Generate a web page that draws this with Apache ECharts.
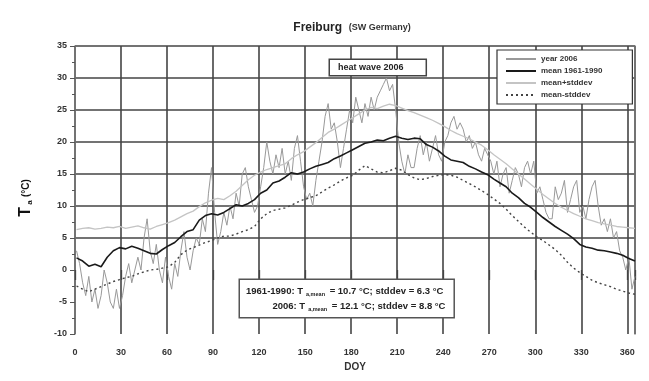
<!DOCTYPE html>
<html><head><meta charset="utf-8">
<script src="https://cdn.jsdelivr.net/npm/echarts@6/dist/echarts.min.js"></script>
<style>html,body{margin:0;padding:0;background:#fff}#c{width:649px;height:381px}</style>
</head><body><div id="c"></div>
<script>
// ---- data ----
const xTicks = [0,30,60,90,120,150,180,210,240,270,300,330,360];
const yTicks = [-10,-5,0,5,10,15,20,25,30,35];
// year 2006 daily mean temperature, every 2nd day starting DOY 1
const year2006 = [
 3, 1, -2, -4, -1, -5, -3, -6, -4, 0,
 -2, -5, -6, -3, -6, -4, -1, 1, -2, 0,
 2, 0, 5, 8, 3, 1, 4, 0, -2, 2,
 -1, -3, 1, -1, 3, 6, 2, 0, 3, 5,
 4, 8, 6, 12, 16, 9, 4, 6, 9, 7,
 10, 8, 12, 10, 15, 16, 13, 11, 9, 10,
 13, 16, 20, 17, 15, 18, 16, 19, 15, 17,
 14, 19, 21, 17, 13, 11, 12, 10, 14, 17,
 20, 24, 26, 22, 23, 20, 16, 19, 22, 25,
 23, 27, 25, 23, 26, 24, 27, 25, 27, 28,
 29, 30, 28, 29, 25, 20, 17, 15, 18, 16,
 16, 19, 21, 18, 20, 17, 19, 21, 18, 17,
 20, 21, 23, 24, 22, 23, 22, 20, 21, 19,
 20, 18, 17, 19, 18, 17, 15, 17, 13, 15,
 16, 12, 14, 16, 15, 13, 16, 17, 15, 17,
 12, 13, 11, 9, 8, 8, 13, 11, 12, 14,
 9, 11, 13, 14, 9, 10, 8, 11, 13, 14,
 10, 7, 8, 6, 8, 5, 6, 3, 2, 0,
 2, -3, -1
];
// 1961-1990 mean, every 4th day starting DOY 1
const mean6190 = [
 1.9, 1.4, 0.6, 0.9, 0.5, 2.0, 3.0, 3.5, 3.3, 3.7,
 3.4, 3.0, 2.6, 2.5, 3.2, 3.8, 4.3, 5.2, 6.0, 6.3,
 7.8, 8.5, 8.8, 8.6, 9.0, 9.6, 10.2, 10.0, 10.4, 11.0,
 12.0, 12.5, 13.6, 13.9, 14.5, 15.2, 15.0, 15.3, 15.8, 16.2,
 16.5, 16.8, 17.4, 17.8, 18.3, 18.8, 19.3, 19.8, 20.0, 20.3,
 20.2, 20.6, 20.9, 20.6, 20.4, 20.6, 20.5, 19.6, 19.2, 18.6,
 17.8, 17.2, 17.0, 16.8, 16.2, 15.8, 15.3, 14.9, 14.2, 13.6,
 13.0, 12.0, 11.3, 10.4, 9.8, 9.0, 8.2, 7.5, 6.8, 6.2,
 5.6, 4.9, 4.0, 3.6, 3.4, 3.1, 3.0, 2.8, 2.6, 2.3,
 1.8, 1.4
];
const meanPlus = [
 6.3, 6.5, 6.6, 6.4, 6.5, 6.7, 6.6, 6.8, 6.5, 6.7,
 6.9, 6.6, 6.4, 6.8, 7.1, 7.4, 7.8, 8.3, 8.8, 9.2,
 9.9, 10.5, 10.9, 11.2, 11.0, 11.6, 12.3, 13.2, 14.1, 14.8,
 15.3, 15.7, 16.0, 16.3, 16.6, 17.4, 18.0, 18.5, 19.2, 19.9,
 20.7, 21.5, 22.0, 22.6, 23.2, 23.8, 24.4, 25.0, 25.4, 25.2,
 25.6, 25.9, 25.7, 25.3, 24.9, 24.6, 24.2, 23.8, 23.4, 22.9,
 22.4, 21.8, 21.3, 20.9, 20.5, 20.0, 19.5, 18.8, 18.0, 17.3,
 16.6, 15.8, 15.0, 14.2, 13.4, 12.6, 11.8, 11.1, 10.4, 9.8,
 9.3, 8.8, 8.4, 8.0, 7.7, 7.4, 7.2, 7.0, 6.8, 6.7,
 6.6, 6.5
];
const meanMinus = [
 -2.5, -3.0, -3.4, -3.0, -2.6, -2.2, -1.8, -1.5, -1.2, -1.0,
 -0.6, -0.3, 0.0, 0.1, 0.3, 0.5, 1.2, 2.4, 3.1, 3.5,
 3.9, 4.3, 4.6, 5.0, 5.3, 5.3, 5.6, 6.0, 6.3, 6.8,
 8.0, 8.8, 9.3, 9.5, 9.7, 10.1, 10.6, 11.0, 11.3, 11.6,
 12.2, 12.8, 13.3, 13.9, 14.4, 14.8, 15.6, 16.3, 15.8, 15.3,
 15.2, 15.5, 15.9, 15.6, 14.9, 14.4, 14.1, 14.3, 14.6, 14.8,
 14.9, 14.8, 14.5, 14.0, 13.5, 13.0, 12.4, 11.8, 11.1, 10.4,
 9.5, 8.5, 7.6, 6.7, 5.9, 5.2, 4.6, 3.9, 3.2, 2.3,
 1.2, 0.3, -0.4, -1.0, -1.6, -2.0, -2.3, -2.6, -3.0, -3.3,
 -3.6, -3.8
];
const seriesNames = ['year 2006','mean 1961-1990','mean+stddev','mean-stddev'];

const pairs = (vals, start, step) => vals.map((v, i) => [start + i * step, v]);

const FONT = 'Liberation Sans, Arial, sans-serif';
const chart = echarts.init(document.getElementById('c'), null, {renderer: 'canvas'});
const gridColor = '#444';
chart.setOption({
  animation: false,
  backgroundColor: '#fff',
  textStyle: {fontFamily: FONT},
  grid: {left: 75, right: 14, top: 46, bottom: 47},
  legend: {
    orient: 'vertical', left: 497, top: 50,
    backgroundColor: '#fff', borderColor: '#333', borderWidth: 1.2,
    padding: [5, 30, 5, 8], itemGap: 4, itemWidth: 30, itemHeight: 8,
    itemStyle: {opacity: 0},
    textStyle: {fontSize: 8, color: '#333', fontFamily: FONT, fontWeight: 'bold'},
    data: seriesNames
  },
  xAxis: {
    type: 'value', min: 0, max: 365, interval: 30,
    name: 'DOY', nameLocation: 'middle', nameGap: 28,
    nameTextStyle: {fontSize: 10, fontWeight: 'bold', color: '#333'},
    axisLine: {show: false},
    axisTick: {show: true, length: 10, lineStyle: {color: gridColor, width: 1.3}},
    axisLabel: {fontSize: 9, fontWeight: 'bold', color: '#333', margin: 14,
      customValues: xTicks},
    splitLine: {show: true, lineStyle: {color: gridColor, width: 1.6}}
  },
  yAxis: [{
    type: 'value', min: -10, max: 35, interval: 5,
    axisLine: {show: true, lineStyle: {color: '#777', width: 1.5}},
    axisTick: {show: true, inside: false, length: 5, lineStyle: {color: '#555'}},
    minorTick: {show: true, splitNumber: 2, length: 3, lineStyle: {color: '#555'}},
    axisLabel: {fontSize: 9, fontWeight: 'bold', color: '#333', margin: 8},
    splitLine: {show: true, lineStyle: {width: 1.6,
      color: ['rgba(0,0,0,0)','rgba(0,0,0,0)','rgba(0,0,0,0)',gridColor,gridColor,gridColor,gridColor,gridColor,gridColor,gridColor]}}
  }, {
    type: 'value', min: -10, max: 35, interval: 5, position: 'right',
    axisLine: {show: true, lineStyle: {color: '#777', width: 1.5}},
    axisTick: {show: false}, axisLabel: {show: false}, splitLine: {show: false}
  }],
  series: [
    {name: seriesNames[0], type: 'line', data: pairs(year2006, 1, 2), symbol: 'none',
     lineStyle: {color: '#999', width: 1}, itemStyle: {color: '#999'}, z: 2},
    {name: seriesNames[2], type: 'line', data: pairs(meanPlus, 1, 4), symbol: 'none',
     lineStyle: {color: '#c4c4c4', width: 1.3}, itemStyle: {color: '#c4c4c4'}, z: 3},
    {name: seriesNames[3], type: 'line', data: pairs(meanMinus, 1, 4), symbol: 'none',
     lineStyle: {color: '#444', width: 1.4, type: [2, 3]}, itemStyle: {color: '#444'}, z: 4},
    {name: seriesNames[1], type: 'line', data: pairs(mean6190, 1, 4), symbol: 'none',
     lineStyle: {color: '#1a1a1a', width: 1.6}, itemStyle: {color: '#1a1a1a'}, z: 5}
  ],
  graphic: [
    {type: 'text', x: 352, y: 28, z: 10,
     style: {text: '{a|Freiburg}  {b|(SW Germany)}', align: 'center', verticalAlign: 'middle', fill: '#222',
       rich: {a: {fontSize: 12, fontWeight: 'bold', fontFamily: FONT, fill: '#222'},
              b: {fontSize: 9, fontWeight: 'bold', fontFamily: FONT, fill: '#333'}}}},
    {type: 'text', x: 26, y: 198, rotation: Math.PI / 2, z: 10,
     style: {text: '{t|T}{s| a} {u|(°C)}', align: 'center', verticalAlign: 'middle',
       rich: {t: {fontSize: 16, fontWeight: 'bold', fontFamily: FONT, fill: '#111'},
              s: {fontSize: 8, fontWeight: 'bold', fontFamily: FONT, fill: '#111', padding: [8, 0, 0, 0]},
              u: {fontSize: 10, fontWeight: 'bold', fontFamily: FONT, fill: '#111'}}}},
    {type: 'text', x: 330, y: 60, z: 10,
     style: {text: 'heat wave 2006', fontSize: 9, fontWeight: 'bold', fontFamily: FONT, fill: '#222',
       backgroundColor: '#fff', borderColor: '#444', borderWidth: 1.5, padding: [3, 22, 3, 8]}},
    {type: 'text', x: 240, y: 280, z: 10,
     style: {
       text: '{n|1961-1990: T}{s|a,mean}{n| = 10.7 °C; stddev = 6.3 °C}\n{n|          2006: T}{s|a,mean}{n| = 12.1 °C; stddev = 8.8 °C}',
       backgroundColor: '#fff', borderColor: '#555', borderWidth: 1.5, padding: [4, 8, 3, 6],
       rich: {n: {fontSize: 9.5, fontWeight: 'bold', fontFamily: FONT, fill: '#222', lineHeight: 15},
              s: {fontSize: 5.5, fontWeight: 'bold', fontFamily: FONT, fill: '#222', padding: [6, 2, 0, 3], lineHeight: 15}}}}
  ]
});
</script></body></html>
